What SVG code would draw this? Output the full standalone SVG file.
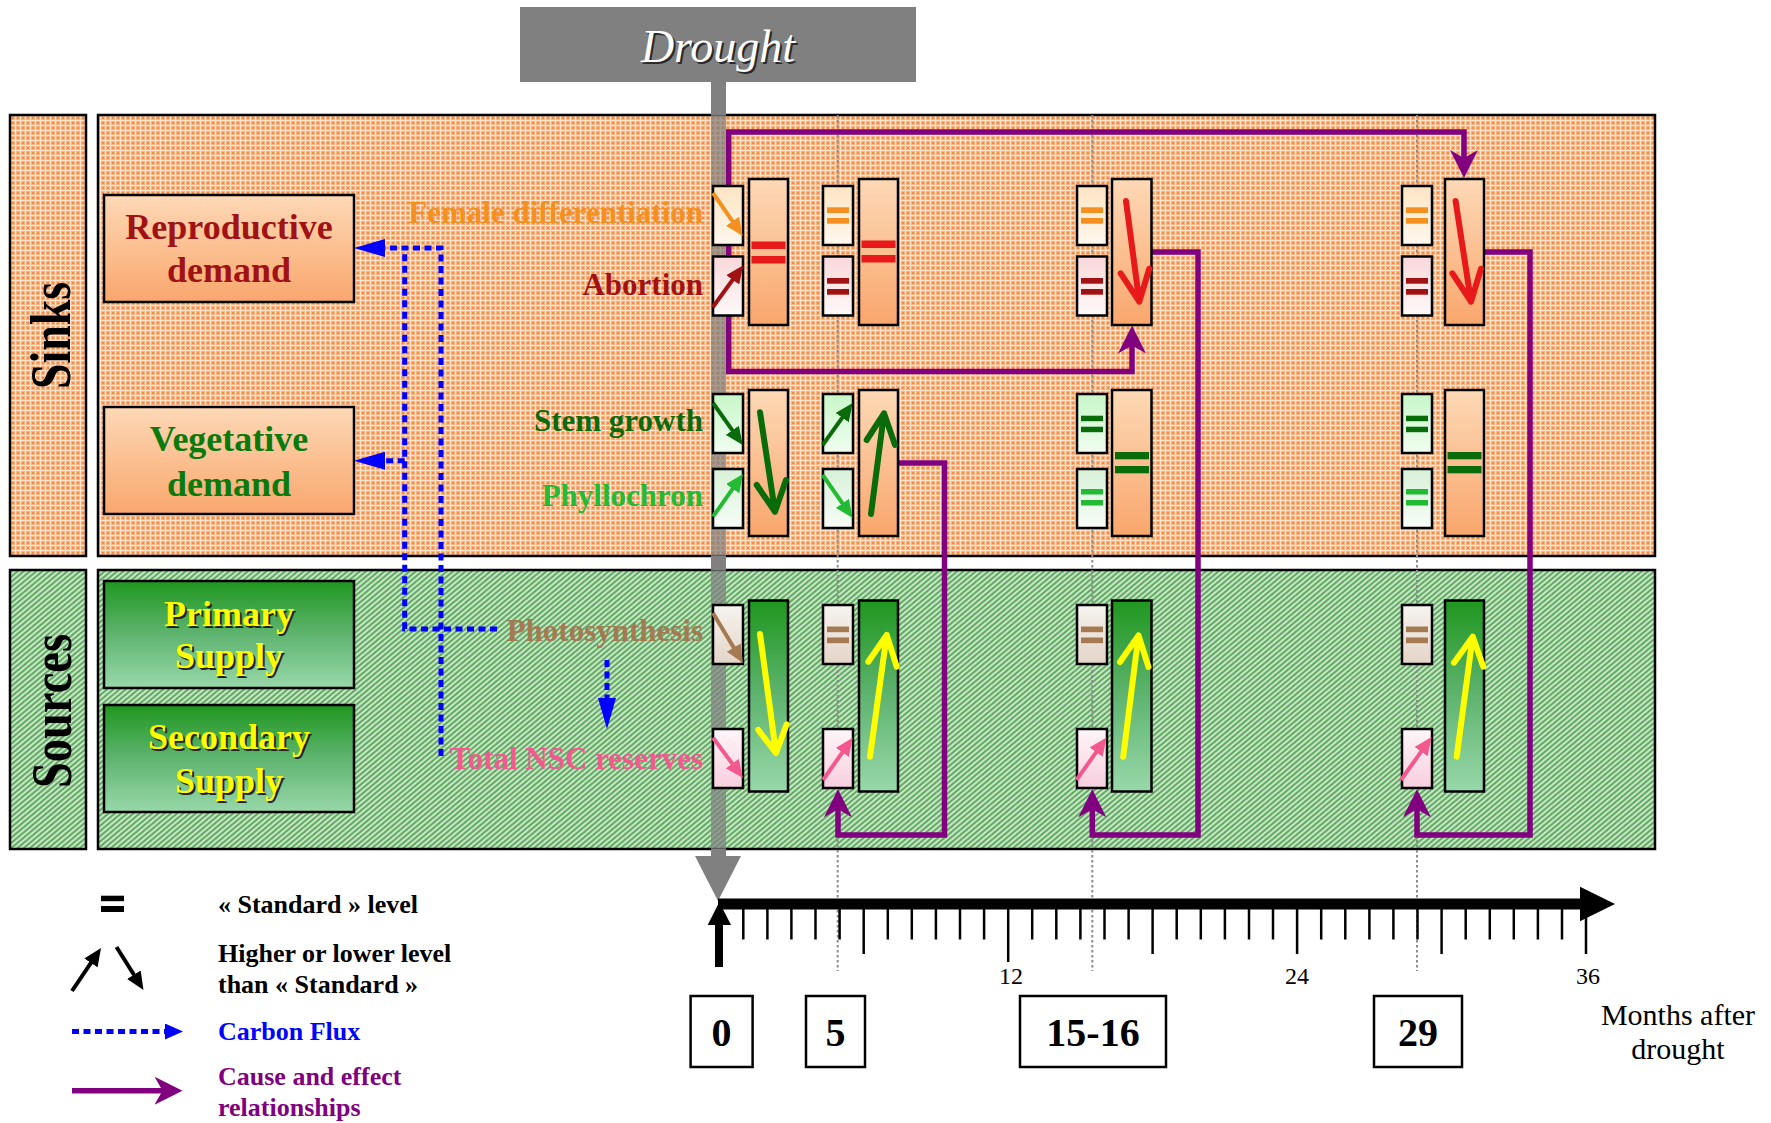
<svg xmlns="http://www.w3.org/2000/svg" width="1771" height="1123" viewBox="0 0 1771 1123">
<style>
.f{font-family:"Liberation Serif","Times New Roman",serif}
.lbl{font-family:"Liberation Serif","Times New Roman",serif;font-weight:bold;font-size:31px;text-anchor:end}
.node{font-family:"Liberation Serif","Times New Roman",serif;font-weight:bold;font-size:36px;text-anchor:middle}
.leg{font-family:"Liberation Serif","Times New Roman",serif;font-weight:bold;font-size:26px}
.bx{stroke:#000;stroke-width:2.5}
.tk{stroke:#000;stroke-width:2.5}
.pur{fill:none;stroke:#800080;stroke-width:5.5}
.blue{fill:none;stroke:#0000FF;stroke-width:5;stroke-dasharray:7 4.5}
.dot{stroke:#8c8c8c;stroke-width:2;stroke-dasharray:2.5 2.5}
.big{fill:none;stroke-width:6;stroke-linecap:round;stroke-linejoin:round}
.sm{fill:none;stroke-width:4}
.tb{fill:#fff;stroke:#000;stroke-width:2.5}
.tn{font-family:"Liberation Serif","Times New Roman",serif;font-weight:bold;font-size:40px;text-anchor:middle}
</style>
<defs>
<pattern id="pS" width="5" height="5" patternUnits="userSpaceOnUse">
<rect width="5" height="5" fill="#FAB385"/>
<rect width="5" height="1" fill="#FFE4CE"/>
<rect width="1" height="5" fill="#FFE4CE"/>
<rect x="2" y="2" width="2" height="2" fill="#F68C3C"/>
</pattern>
<pattern id="pG" width="4" height="4" patternUnits="userSpaceOnUse" patternTransform="rotate(-40)">
<rect width="4" height="4" fill="#A9D6A9"/>
<rect y="0.3" width="4" height="1.3" fill="#3E963E"/>
<rect y="2.4" width="4" height="0.9" fill="#EEF8EE"/>
</pattern>
<linearGradient id="gSink" x1="0" y1="0" x2="0" y2="1"><stop offset="0" stop-color="#FDD9B6"/><stop offset="1" stop-color="#F9A66C"/></linearGradient>
<linearGradient id="gGreen" x1="0" y1="0" x2="0" y2="1"><stop offset="0" stop-color="#1F971F"/><stop offset="0.5" stop-color="#5FB46F"/><stop offset="1" stop-color="#98D8AA"/></linearGradient>
<linearGradient id="gFem" x1="0" y1="0" x2="0" y2="1"><stop offset="0" stop-color="#FDE5C4"/><stop offset="1" stop-color="#FFF7EE"/></linearGradient>
<linearGradient id="gAbo" x1="0" y1="0" x2="0" y2="1"><stop offset="0" stop-color="#F9D8DA"/><stop offset="1" stop-color="#FFF9F9"/></linearGradient>
<linearGradient id="gStem" x1="0" y1="0" x2="0" y2="1"><stop offset="0" stop-color="#C8F7C8"/><stop offset="1" stop-color="#F0FDF0"/></linearGradient>
<linearGradient id="gPhy" x1="0" y1="0" x2="0" y2="1"><stop offset="0" stop-color="#D8F1D8"/><stop offset="1" stop-color="#F7FDF7"/></linearGradient>
<linearGradient id="gPho" x1="0" y1="0" x2="0" y2="1"><stop offset="0" stop-color="#F6F3EF"/><stop offset="1" stop-color="#E4D5C8"/></linearGradient>
<linearGradient id="gNsc" x1="0" y1="0" x2="0" y2="1"><stop offset="0" stop-color="#FFF6F9"/><stop offset="1" stop-color="#F8CEDE"/></linearGradient>
<marker id="mP" markerUnits="userSpaceOnUse" markerWidth="28" markerHeight="28" viewBox="0 0 28 28" refX="16" refY="14" orient="auto-start-reverse"><path d="M0,0 L28,14 L0,28 L8,14 Z" fill="#800080"/></marker>
<marker id="mB" markerUnits="userSpaceOnUse" markerWidth="31" markerHeight="18" viewBox="0 0 31 18" refX="2" refY="9" orient="auto"><path d="M0,0 L31,9 L0,18 Z" fill="#0000FF"/></marker>
<marker id="mB2" markerUnits="userSpaceOnUse" markerWidth="18" markerHeight="16" viewBox="0 0 18 16" refX="0" refY="8" orient="auto"><path d="M0,0 L18,8 L0,16 Z" fill="#0000FF"/></marker>
<marker id="aO" markerUnits="userSpaceOnUse" markerWidth="18" markerHeight="16" viewBox="0 0 18 16" refX="6" refY="8" orient="auto"><path d="M0,0 L18,8 L0,16 Z" fill="#F39020"/></marker>
<marker id="aR" markerUnits="userSpaceOnUse" markerWidth="18" markerHeight="16" viewBox="0 0 18 16" refX="6" refY="8" orient="auto"><path d="M0,0 L18,8 L0,16 Z" fill="#A11214"/></marker>
<marker id="aDG" markerUnits="userSpaceOnUse" markerWidth="18" markerHeight="16" viewBox="0 0 18 16" refX="6" refY="8" orient="auto"><path d="M0,0 L18,8 L0,16 Z" fill="#0A6B0A"/></marker>
<marker id="aLG" markerUnits="userSpaceOnUse" markerWidth="18" markerHeight="16" viewBox="0 0 18 16" refX="6" refY="8" orient="auto"><path d="M0,0 L18,8 L0,16 Z" fill="#22BB33"/></marker>
<marker id="aBr" markerUnits="userSpaceOnUse" markerWidth="18" markerHeight="16" viewBox="0 0 18 16" refX="6" refY="8" orient="auto"><path d="M0,0 L18,8 L0,16 Z" fill="#A57A52"/></marker>
<marker id="aPk" markerUnits="userSpaceOnUse" markerWidth="18" markerHeight="16" viewBox="0 0 18 16" refX="6" refY="8" orient="auto"><path d="M0,0 L18,8 L0,16 Z" fill="#F25A8F"/></marker>
<marker id="aK" markerUnits="userSpaceOnUse" markerWidth="18" markerHeight="16" viewBox="0 0 18 16" refX="6" refY="8" orient="auto"><path d="M0,0 L18,8 L0,16 Z" fill="#000"/></marker>
</defs>

<rect width="1771" height="1123" fill="#fff"/>

<g id="panels">
<rect x="10" y="115" width="76" height="441" fill="url(#pS)" class="bx"/>
<rect x="98" y="115" width="1557" height="441" fill="url(#pS)" class="bx"/>
<rect x="10" y="570" width="76" height="279" fill="url(#pG)" class="bx"/>
<rect x="98" y="570" width="1557" height="279" fill="url(#pG)" class="bx"/>
<text class="f" font-weight="bold" font-size="56" text-anchor="middle" textLength="107" lengthAdjust="spacingAndGlyphs" transform="translate(70,335.5) rotate(-90)">Sinks</text>
<text class="f" font-weight="bold" font-size="56" text-anchor="middle" textLength="154" lengthAdjust="spacingAndGlyphs" transform="translate(71,711) rotate(-90)">Sources</text>
</g>

<g id="drought">
<rect x="520" y="7" width="396" height="75" fill="#808080"/>
<text x="720" y="64" class="f" font-style="italic" font-size="46" text-anchor="middle" fill="#2a2a2a">Drought</text>
<text x="718" y="62" class="f" font-style="italic" font-size="46" text-anchor="middle" fill="#fff">Drought</text>
<rect x="711" y="81" width="15" height="34" fill="#808080"/>
<rect x="711" y="115" width="15" height="441" fill="#808080" opacity="0.72"/>
<rect x="711" y="556" width="15" height="14" fill="#808080"/>
<rect x="711" y="570" width="15" height="279" fill="#808080" opacity="0.72"/>
<rect x="711" y="849" width="15" height="8" fill="#808080"/>
<polygon points="695,856 741,856 718,901" fill="#808080"/>
</g>

<g id="guides">
<line class="dot" x1="837.7" y1="115" x2="837.7" y2="971"/>
<line class="dot" x1="1092.3" y1="115" x2="1092.3" y2="971"/>
<line class="dot" x1="1417" y1="115" x2="1417" y2="971"/>
</g>

<g id="connectors">
<path class="pur" d="M1464,166 V132 H728.7 V371.5 H1132 V337.5" marker-start="url(#mP)" marker-end="url(#mP)"/>
<path class="pur" d="M898,463 H944.5 V835 H838 V801.3" marker-end="url(#mP)"/>
<path class="pur" d="M1152,252 H1198 V835 H1092.3 V801.3" marker-end="url(#mP)"/>
<path class="pur" d="M1484,252 H1530 V835 H1417 V801.3" marker-end="url(#mP)"/>
<path class="blue" d="M497,629 H404.7 V250"/>
<path class="blue" d="M441,756 V248 H383" marker-end="url(#mB)"/>
<path class="blue" d="M404.7,460.7 H383" marker-end="url(#mB)"/>
<path class="blue" d="M607,660 V700" marker-end="url(#mB)"/>
</g>

<g id="node-reproductive">
<rect x="104" y="195" width="250" height="107" fill="url(#gSink)" class="bx"/>
<text class="node" x="229" y="238.6" fill="#A11214">Reproductive</text>
<text class="node" x="229" y="282" fill="#A11214">demand</text>
</g>
<g id="node-vegetative">
<rect x="104" y="407" width="250" height="107" fill="url(#gSink)" class="bx"/>
<text class="node" x="229" y="451" fill="#0A7A0A">Vegetative</text>
<text class="node" x="229" y="496" fill="#0A7A0A">demand</text>
</g>
<g id="node-primary">
<rect x="104" y="581" width="250" height="107" fill="url(#gGreen)" class="bx"/>
<text class="node" x="231" y="628" fill="#222">Primary</text>
<text class="node" x="231" y="670" fill="#222">Supply</text>
<text class="node" x="229" y="626" fill="#FFFF00">Primary</text>
<text class="node" x="229" y="668" fill="#FFFF00">Supply</text>
</g>
<g id="node-secondary">
<rect x="104" y="705" width="250" height="107" fill="url(#gGreen)" class="bx"/>
<text class="node" x="231" y="750.5" fill="#222">Secondary</text>
<text class="node" x="231" y="795" fill="#222">Supply</text>
<text class="node" x="229" y="748.5" fill="#FFFF00">Secondary</text>
<text class="node" x="229" y="793" fill="#FFFF00">Supply</text>
</g>

<g id="labels">
<text class="lbl" x="703" y="222.5" fill="#F39020">Female differentiation</text>
<text class="lbl" x="703" y="294.5" fill="#A11214">Abortion</text>
<text class="lbl" x="703" y="431" fill="#0A6B0A">Stem growth</text>
<text class="lbl" x="703" y="506" fill="#22BB33">Phyllochron</text>
<text class="lbl" x="703" y="641" fill="#A57A52">Photosynthesis</text>
<text class="lbl" x="703" y="769" fill="#F25A8F">Total NSC reserves</text>
</g>

<g id="col-0">
<rect x="713" y="186" width="30" height="59" fill="url(#gFem)" class="bx"/>
<rect x="713" y="256.5" width="30" height="59" fill="url(#gAbo)" class="bx"/>
<rect x="749" y="179" width="39" height="146" fill="url(#gSink)" class="bx"/>
<rect x="713" y="394" width="30" height="59" fill="url(#gStem)" class="bx"/>
<rect x="713" y="469" width="30" height="59" fill="url(#gPhy)" class="bx"/>
<rect x="749" y="390" width="39" height="146" fill="url(#gSink)" class="bx"/>
<rect x="713" y="605" width="30" height="59" fill="url(#gPho)" class="bx"/>
<rect x="713" y="729" width="30" height="59" fill="url(#gNsc)" class="bx"/>
<rect x="749" y="600.5" width="39" height="191" fill="url(#gGreen)" class="bx"/>
<path class="sm" stroke="#F39020" d="M713,193 L735.9,226.1" marker-end="url(#aO)"/>
<path class="sm" stroke="#A11214" d="M712.7,307.3 L736.2,275" marker-end="url(#aR)"/>
<rect x="751.5" y="241.5" width="34" height="7.5" fill="#E8191B"/>
<rect x="751.5" y="256" width="34" height="7.5" fill="#E8191B"/>
<path class="sm" stroke="#0A6B0A" d="M713,403 L735.8,435.2" marker-end="url(#aDG)"/>
<path class="sm" stroke="#22BB33" d="M713,516.7 L736.1,483.8" marker-end="url(#aLG)"/>
<path class="big" stroke="#0A6B0A" d="M760,412.3 L775,511.7 M756.7,485 L775,511.7 L786,480"/>
<path class="sm" stroke="#A57A52" d="M713,613 L736.8,652.7" marker-end="url(#aBr)"/>
<path class="sm" stroke="#F25A8F" d="M713,737.7 L735.8,768.4" marker-end="url(#aPk)"/>
<path class="big" stroke="#FFFF00" d="M760,634 L776,753 M758.3,730 L776,753 L786.7,724.3"/>
</g>

<g id="col-5">
<rect x="823" y="186" width="30" height="59" fill="url(#gFem)" class="bx"/>
<rect x="823" y="256.5" width="30" height="59" fill="url(#gAbo)" class="bx"/>
<rect x="859" y="179" width="39" height="146" fill="url(#gSink)" class="bx"/>
<rect x="823" y="394" width="30" height="59" fill="url(#gStem)" class="bx"/>
<rect x="823" y="469" width="30" height="59" fill="url(#gPhy)" class="bx"/>
<rect x="859" y="390" width="39" height="146" fill="url(#gSink)" class="bx"/>
<rect x="823" y="605" width="30" height="59" fill="url(#gPho)" class="bx"/>
<rect x="823" y="729" width="30" height="59" fill="url(#gNsc)" class="bx"/>
<rect x="859" y="600.5" width="39" height="191" fill="url(#gGreen)" class="bx"/>
<rect x="827" y="207.3" width="22" height="5.7" fill="#F39020"/>
<rect x="827" y="218" width="22" height="5.7" fill="#F39020"/>
<rect x="827" y="278" width="22" height="5.7" fill="#A11214"/>
<rect x="827" y="289" width="22" height="5.7" fill="#A11214"/>
<rect x="861.5" y="240.5" width="34" height="7.5" fill="#E8191B"/>
<rect x="861.5" y="255" width="34" height="7.5" fill="#E8191B"/>
<path class="sm" stroke="#0A6B0A" d="M822.7,445 L845.7,412.8" marker-end="url(#aDG)"/>
<path class="sm" stroke="#22BB33" d="M822.7,475 L845.8,508.2" marker-end="url(#aLG)"/>
<path class="big" stroke="#0A6B0A" d="M871,514 L884,413.3 M866.7,440 L884,413.3 L895,445"/>
<rect x="827" y="626.5" width="22" height="5.7" fill="#A57A52"/>
<rect x="827" y="637.5" width="22" height="5.7" fill="#A57A52"/>
<path class="sm" stroke="#F25A8F" d="M823,780 L845.8,747.5" marker-end="url(#aPk)"/>
<path class="big" stroke="#FFFF00" d="M870,756.7 L886.7,635 M868.3,661.7 L886.7,635 L896.7,666.7"/>
</g>

<g id="col-15-16">
<rect x="1077" y="186" width="30" height="59" fill="url(#gFem)" class="bx"/>
<rect x="1077" y="256.5" width="30" height="59" fill="url(#gAbo)" class="bx"/>
<rect x="1112" y="179" width="39.5" height="146" fill="url(#gSink)" class="bx"/>
<rect x="1077" y="394" width="30" height="59" fill="url(#gStem)" class="bx"/>
<rect x="1077" y="469" width="30" height="59" fill="url(#gPhy)" class="bx"/>
<rect x="1112" y="390" width="39.5" height="146" fill="url(#gSink)" class="bx"/>
<rect x="1077" y="605" width="30" height="59" fill="url(#gPho)" class="bx"/>
<rect x="1077" y="729" width="30" height="59" fill="url(#gNsc)" class="bx"/>
<rect x="1112" y="600.5" width="39.5" height="191" fill="url(#gGreen)" class="bx"/>
<rect x="1081" y="207.3" width="22" height="5.7" fill="#F39020"/>
<rect x="1081" y="218" width="22" height="5.7" fill="#F39020"/>
<rect x="1081" y="278" width="22" height="5.7" fill="#A11214"/>
<rect x="1081" y="289" width="22" height="5.7" fill="#A11214"/>
<path class="big" stroke="#E8191B" d="M1126,201 L1139.3,301.7 M1120.7,273.3 L1139.3,301.7 L1149.3,268.7"/>
<rect x="1081" y="415.7" width="22" height="5.5" fill="#0A6B0A"/>
<rect x="1081" y="426.7" width="22" height="5.5" fill="#0A6B0A"/>
<rect x="1081" y="489" width="22" height="5.5" fill="#22BB33"/>
<rect x="1081" y="500" width="22" height="5.5" fill="#22BB33"/>
<rect x="1115" y="452" width="34" height="7.3" fill="#0A6B0A"/>
<rect x="1115" y="466" width="34" height="7.3" fill="#0A6B0A"/>
<rect x="1081" y="626.5" width="22" height="5.7" fill="#A57A52"/>
<rect x="1081" y="637.5" width="22" height="5.7" fill="#A57A52"/>
<path class="sm" stroke="#F25A8F" d="M1076.5,780 L1099.6,747.3" marker-end="url(#aPk)"/>
<path class="big" stroke="#FFFF00" d="M1123.2,756.8 L1138.5,635.4 M1120,662 L1138.5,635.4 L1148.5,667"/>
</g>

<g id="col-29">
<rect x="1402" y="186" width="30" height="59" fill="url(#gFem)" class="bx"/>
<rect x="1402" y="256.5" width="30" height="59" fill="url(#gAbo)" class="bx"/>
<rect x="1445" y="179" width="39" height="146" fill="url(#gSink)" class="bx"/>
<rect x="1402" y="394" width="30" height="59" fill="url(#gStem)" class="bx"/>
<rect x="1402" y="469" width="30" height="59" fill="url(#gPhy)" class="bx"/>
<rect x="1445" y="390" width="39" height="146" fill="url(#gSink)" class="bx"/>
<rect x="1402" y="605" width="30" height="59" fill="url(#gPho)" class="bx"/>
<rect x="1402" y="729" width="30" height="59" fill="url(#gNsc)" class="bx"/>
<rect x="1445" y="600.5" width="39" height="191" fill="url(#gGreen)" class="bx"/>
<rect x="1406" y="207.3" width="22" height="5.7" fill="#F39020"/>
<rect x="1406" y="218" width="22" height="5.7" fill="#F39020"/>
<rect x="1406" y="278" width="22" height="5.7" fill="#A11214"/>
<rect x="1406" y="289" width="22" height="5.7" fill="#A11214"/>
<path class="big" stroke="#E8191B" d="M1455.6,201 L1471,301.7 M1452.4,273.3 L1471,301.7 L1481,268.7"/>
<rect x="1406" y="415.7" width="22" height="5.5" fill="#0A6B0A"/>
<rect x="1406" y="426.7" width="22" height="5.5" fill="#0A6B0A"/>
<rect x="1406" y="489" width="22" height="5.5" fill="#22BB33"/>
<rect x="1406" y="500" width="22" height="5.5" fill="#22BB33"/>
<rect x="1447.5" y="452" width="34" height="7.3" fill="#0A6B0A"/>
<rect x="1447.5" y="466" width="34" height="7.3" fill="#0A6B0A"/>
<rect x="1406" y="626.5" width="22" height="5.7" fill="#A57A52"/>
<rect x="1406" y="637.5" width="22" height="5.7" fill="#A57A52"/>
<path class="sm" stroke="#F25A8F" d="M1401,780 L1424.6,746.8" marker-end="url(#aPk)"/>
<path class="big" stroke="#FFFF00" d="M1456.7,756.7 L1472.7,636.7 M1454,662.7 L1472.7,636.7 L1483.3,666.7"/>
</g>

<g id="timeline">
<rect x="718" y="898.5" width="864" height="11" fill="#000"/>
<polygon points="1580,886.7 1615,904 1580,921.3" fill="#000"/>
<rect x="715" y="922" width="8" height="45" fill="#000"/>
<polygon points="707.7,925 719.3,902 731,925" fill="#000"/>
<g class="tk">
<line x1="743.3" y1="909" x2="743.3" y2="939.5"/><line x1="767.4" y1="909" x2="767.4" y2="939.5"/><line x1="791.4" y1="909" x2="791.4" y2="939.5"/><line x1="815.5" y1="909" x2="815.5" y2="939.5"/><line x1="839.6" y1="909" x2="839.6" y2="939.5"/><line x1="863.7" y1="909" x2="863.7" y2="954"/>
<line x1="887.8" y1="909" x2="887.8" y2="939.5"/><line x1="911.8" y1="909" x2="911.8" y2="939.5"/><line x1="935.9" y1="909" x2="935.9" y2="939.5"/><line x1="960" y1="909" x2="960" y2="939.5"/><line x1="984.1" y1="909" x2="984.1" y2="939.5"/><line x1="1008.2" y1="909" x2="1008.2" y2="962"/>
<line x1="1032.2" y1="909" x2="1032.2" y2="939.5"/><line x1="1056.3" y1="909" x2="1056.3" y2="939.5"/><line x1="1080.4" y1="909" x2="1080.4" y2="939.5"/><line x1="1104.5" y1="909" x2="1104.5" y2="939.5"/><line x1="1128.6" y1="909" x2="1128.6" y2="939.5"/><line x1="1152.6" y1="909" x2="1152.6" y2="954"/>
<line x1="1176.7" y1="909" x2="1176.7" y2="939.5"/><line x1="1200.8" y1="909" x2="1200.8" y2="939.5"/><line x1="1224.9" y1="909" x2="1224.9" y2="939.5"/><line x1="1249" y1="909" x2="1249" y2="939.5"/><line x1="1273" y1="909" x2="1273" y2="939.5"/><line x1="1297.1" y1="909" x2="1297.1" y2="954"/>
<line x1="1321.2" y1="909" x2="1321.2" y2="939.5"/><line x1="1345.3" y1="909" x2="1345.3" y2="939.5"/><line x1="1369.4" y1="909" x2="1369.4" y2="939.5"/><line x1="1393.4" y1="909" x2="1393.4" y2="939.5"/><line x1="1417.5" y1="909" x2="1417.5" y2="939.5"/><line x1="1441.6" y1="909" x2="1441.6" y2="954"/>
<line x1="1465.7" y1="909" x2="1465.7" y2="939.5"/><line x1="1489.8" y1="909" x2="1489.8" y2="939.5"/><line x1="1513.8" y1="909" x2="1513.8" y2="939.5"/><line x1="1537.9" y1="909" x2="1537.9" y2="939.5"/><line x1="1562" y1="909" x2="1562" y2="939.5"/><line x1="1586" y1="909" x2="1586" y2="954"/>
</g>
<text class="f" font-size="24" text-anchor="middle" x="1011" y="983.5">12</text>
<text class="f" font-size="24" text-anchor="middle" x="1297" y="983.5">24</text>
<text class="f" font-size="24" text-anchor="middle" x="1588" y="983.5">36</text>
<text class="f" font-size="30" text-anchor="middle" x="1678" y="1025">Months after</text>
<text class="f" font-size="30" text-anchor="middle" x="1678" y="1059">drought</text>
</g>

<g id="time-0"><rect class="tb" x="690.6" y="996" width="62" height="71"/><text class="tn" x="721.6" y="1046">0</text></g>
<g id="time-5"><rect class="tb" x="806" y="996" width="59" height="71"/><text class="tn" x="835.5" y="1046">5</text></g>
<g id="time-15-16"><rect class="tb" x="1020" y="996" width="146" height="71"/><text class="tn" x="1093" y="1046">15-16</text></g>
<g id="time-29"><rect class="tb" x="1374" y="996" width="88" height="71"/><text class="tn" x="1418" y="1046">29</text></g>

<g id="legend">
<rect x="101" y="895.7" width="23" height="5.5" fill="#000"/>
<rect x="101" y="906" width="23" height="6" fill="#000"/>
<text class="leg" x="218" y="913">« Standard » level</text>
<path class="sm" stroke="#000" d="M72,991 L94.3,957.9" marker-end="url(#aK)"/>
<path class="sm" stroke="#000" d="M116.5,947 L137.1,979.8" marker-end="url(#aK)"/>
<text class="leg" x="218" y="962">Higher or lower level</text>
<text class="leg" x="218" y="992.7">than « Standard »</text>
<path class="blue" d="M72,1031.5 H165" marker-end="url(#mB2)"/>
<text class="leg" x="218" y="1040" fill="#0000FF">Carbon Flux</text>
<path class="pur" d="M72,1090.7 H170.5" marker-end="url(#mP)"/>
<text class="leg" x="218" y="1085" fill="#800080">Cause and effect</text>
<text class="leg" x="218" y="1116" fill="#800080">relationships</text>
</g>
</svg>
